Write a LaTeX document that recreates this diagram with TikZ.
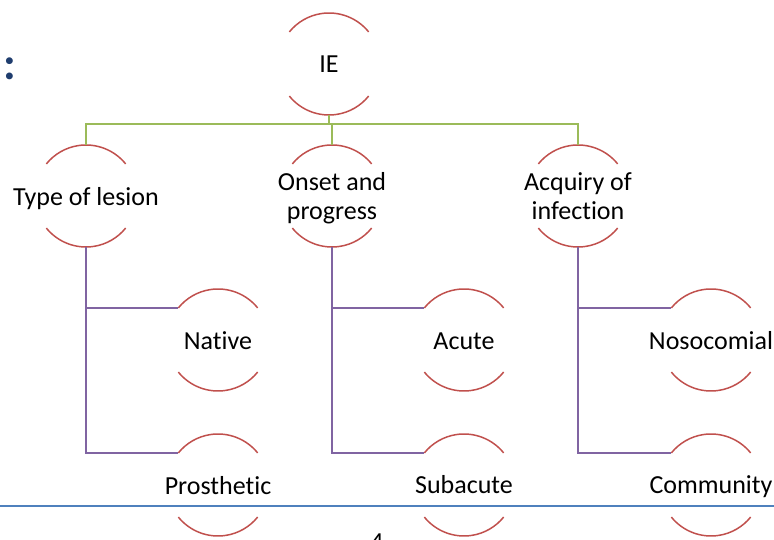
\documentclass[tikz,border=0pt]{standalone}
\usepackage{fontspec}
\setmainfont{Carlito}[Ligatures=NoCommon]
\usetikzlibrary{calc}
\definecolor{arcred}{HTML}{C0504D}
\definecolor{lgreen}{HTML}{9BBB59}
\definecolor{lpurple}{HTML}{8064A2}
\definecolor{lblue}{HTML}{4F81BD}
\definecolor{titleblue}{HTML}{1F3D6E}
\tikzset{
  lbl/.style={inner sep=0pt, align=center, font=\fontsize{26}{29}\selectfont},
  arcline/.style={draw=arcred, line width=1.5pt},
  gline/.style={draw=lgreen, line width=1.5pt},
  pline/.style={draw=lpurple, line width=1.5pt},
}
\newcommand{\halfarcs}[1]{%
  \draw[arcline] ($(#1)+(39:51pt)$) arc[start angle=39, end angle=141, radius=51pt];
  \draw[arcline] ($(#1)+(219:51pt)$) arc[start angle=219, end angle=321, radius=51pt];
}
\begin{document}
\begin{tikzpicture}[x=1pt,y=1pt]
\useasboundingbox (0,0) rectangle (774,540);
% title fragment and footer
\node[inner sep=0pt, text=titleblue, font=\fontsize{46}{50}\selectfont\bfseries] (colon) at (9.5,471) {:};
\draw[draw=lblue, line width=1.2pt] (0,34) coordinate (fl) -- (774,34) coordinate (fr);
\node[inner sep=0pt, anchor=north, font=\fontsize{26}{29}\selectfont] (pgnum) at (377,6) {4};
% shape centres
\coordinate (iec) at (329,476);
\coordinate (typec) at (86,344);
\coordinate (onsetc) at (332,344);
\coordinate (acqc) at (578,344);
\coordinate (nativec) at (218,200);
\coordinate (prostc) at (218,55);
\coordinate (acutec) at (464,200);
\coordinate (subacc) at (464,55);
\coordinate (nosoc) at (711,200);
\coordinate (commc) at (711,55);
% labels
\node[lbl] (ie) at (329,476) {IE};
\node[lbl] (type) at (86,341) {Type of lesion};
\node[lbl] (onset) at (332,342) {Onset and\\progress};
\node[lbl] (acq) at (578,344) {Acquiry of\\infection};
\node[lbl] (native) at (218,199) {Native};
\node[lbl] (prost) at (218,54) {Prosthetic};
\node[lbl] (acute) at (464,199) {Acute};
\node[lbl] (subac) at (464,55) {Subacute};
\node[lbl] (noso) at (711,199) {Nosocomial};
\node[lbl] (comm) at (711,53) {Community};
\foreach \n in {iec,typec,onsetc,acqc,nativec,prostc,acutec,subacc,nosoc,commc} {\halfarcs{\n}}
% anchor points
\coordinate (ieb) at ($(iec)+(0,-51)$);
\coordinate (bar) at (0,416);
\foreach \n in {typec,onsetc,acqc} {
  \coordinate (\n t) at ($(\n)+(0,51)$);
  \coordinate (\n b) at ($(\n)+(0,-51)$);
}
\foreach \n in {nativec,prostc,acutec,subacc,nosoc,commc} {
  \coordinate (\n l) at ($(\n)+(141:51pt)$);
}
% green connectors
\draw[gline] (ieb) -- (ieb |- bar);
\draw[gline] (typect) -- (typect |- bar) -- (acqct |- bar) -- (acqct);
\draw[gline] (onsetct |- bar) -- (onsetct);
% purple connectors
\draw[pline] (typecb) -- (typecb |- prostcl) -- (prostcl);
\draw[pline] (typecb |- nativecl) -- (nativecl);
\draw[pline] (onsetcb) -- (onsetcb |- subaccl) -- (subaccl);
\draw[pline] (onsetcb |- acutecl) -- (acutecl);
\draw[pline] (acqcb) -- (acqcb |- commcl) -- (commcl);
\draw[pline] (acqcb |- nosocl) -- (nosocl);
\end{tikzpicture}
\end{document}
